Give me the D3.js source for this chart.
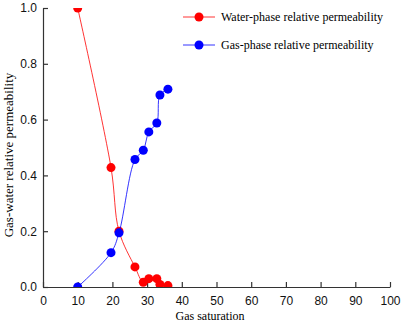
<!DOCTYPE html>
<html>
<head>
<meta charset="utf-8">
<script src="https://cdn.jsdelivr.net/npm/d3@7"></script>
<style>
  body { margin: 0; background: #fff; }
  svg { display: block; }
</style>
</head>
<body>
<div id="chart"></div>
<script>
// data
const waterSat = [10, 19.6, 21.9, 26.5, 28.9, 30.5, 32.8, 33.7, 36.0];
const waterPerm = [1.0, 0.428, 0.2, 0.072, 0.017, 0.03, 0.03, 0.009, 0.005];
const gasSat = [10, 19.6, 21.9, 26.5, 28.9, 30.5, 32.8, 33.7, 36.0];
const gasPerm = [0, 0.123, 0.194, 0.457, 0.49, 0.556, 0.588, 0.688, 0.709];
const xTicks = [0, 10, 20, 30, 40, 50, 60, 70, 80, 90, 100];
const yTicks = [0, 0.2, 0.4, 0.6, 0.8, 1.0];
const seriesNames = ['Water-phase relative permeability', 'Gas-phase relative permeability'];
const seriesColors = ['#ff0000', '#0000ff'];

const W = 401, H = 329;
const margin = {l: 43, r: 11, t: 8, b: 42};

const svg = d3.select('#chart').append('svg')
    .attr('width', W)
    .attr('height', H);

const x = d3.scaleLinear().domain([0, 100]).range([margin.l, W - margin.r]);
const y = d3.scaleLinear().domain([0, 1]).range([H - margin.b, margin.t]);

// marks are cut at the plot frame, like the original
svg.append('clipPath').attr('id', 'plot-clip')
    .append('rect')
    .attr('x', x(0)).attr('y', y(1))
    .attr('width', x(100) - x(0))
    .attr('height', y(0) - y(1));

// axes, ticks pointing inwards
const xAxis = svg.append('g')
    .attr('transform', `translate(0,${y(0)})`)
    .call(d3.axisBottom(x).tickValues(xTicks).tickSizeInner(-5).tickSizeOuter(0).tickPadding(9));
const yAxis = svg.append('g')
    .attr('transform', `translate(${x(0)},0)`)
    .call(d3.axisLeft(y).tickValues(yTicks).tickFormat(d3.format('.1f')).tickSizeInner(-5).tickSizeOuter(0).tickPadding(6));

[xAxis, yAxis].forEach(a => {
    a.selectAll('path, line').attr('stroke', '#333').attr('stroke-width', 1.2);
    a.selectAll('text')
        .attr('fill', '#111')
        .style('font-family', 'Liberation Sans, Arial, sans-serif')
        .style('font-size', '12px');
});

// axis titles
svg.append('text')
    .attr('x', 210)
    .attr('y', 320)
    .attr('text-anchor', 'middle')
    .style('font-family', 'Liberation Serif, Times New Roman, serif')
    .style('font-size', '12px')
    .text('Gas saturation');
svg.append('text')
    .attr('transform', 'translate(13,155) rotate(-90)')
    .attr('text-anchor', 'middle')
    .style('font-family', 'Liberation Serif, Times New Roman, serif')
    .style('font-size', '13px')
    .text('Gas-water relative permeability');

const series = [
    {sat: waterSat, perm: waterPerm},
    {sat: gasSat, perm: gasPerm}
];

const line = d3.line()
    .x(d => x(d[0]))
    .y(d => y(d[1]))
    .curve(d3.curveCatmullRom.alpha(0.5));

const plot = svg.append('g').attr('clip-path', 'url(#plot-clip)');

series.forEach((s, i) => {
    const pts = s.sat.map((v, j) => [v, s.perm[j]]);
    plot.append('path')
        .datum(pts)
        .attr('d', line)
        .attr('fill', 'none')
        .attr('stroke', seriesColors[i])
        .attr('stroke-width', 0.8);
    plot.append('g').selectAll('circle')
        .data(pts)
        .join('circle')
        .attr('cx', d => x(d[0]))
        .attr('cy', d => y(d[1]))
        .attr('r', 4.5)
        .attr('fill', seriesColors[i]);
});

// legend
const legend = svg.append('g');
seriesNames.forEach((name, i) => {
    const ly = 17 + i * 28;
    legend.append('line')
        .attr('x1', 183).attr('x2', 215)
        .attr('y1', ly).attr('y2', ly)
        .attr('stroke', seriesColors[i])
        .attr('stroke-width', 0.8);
    legend.append('circle')
        .attr('cx', 199).attr('cy', ly)
        .attr('r', 4.5)
        .attr('fill', seriesColors[i]);
    legend.append('text')
        .attr('x', 221).attr('y', ly + 4)
        .style('font-family', 'Liberation Serif, Times New Roman, serif')
        .style('font-size', '12px')
        .text(name);
});
</script>
</body>
</html>
